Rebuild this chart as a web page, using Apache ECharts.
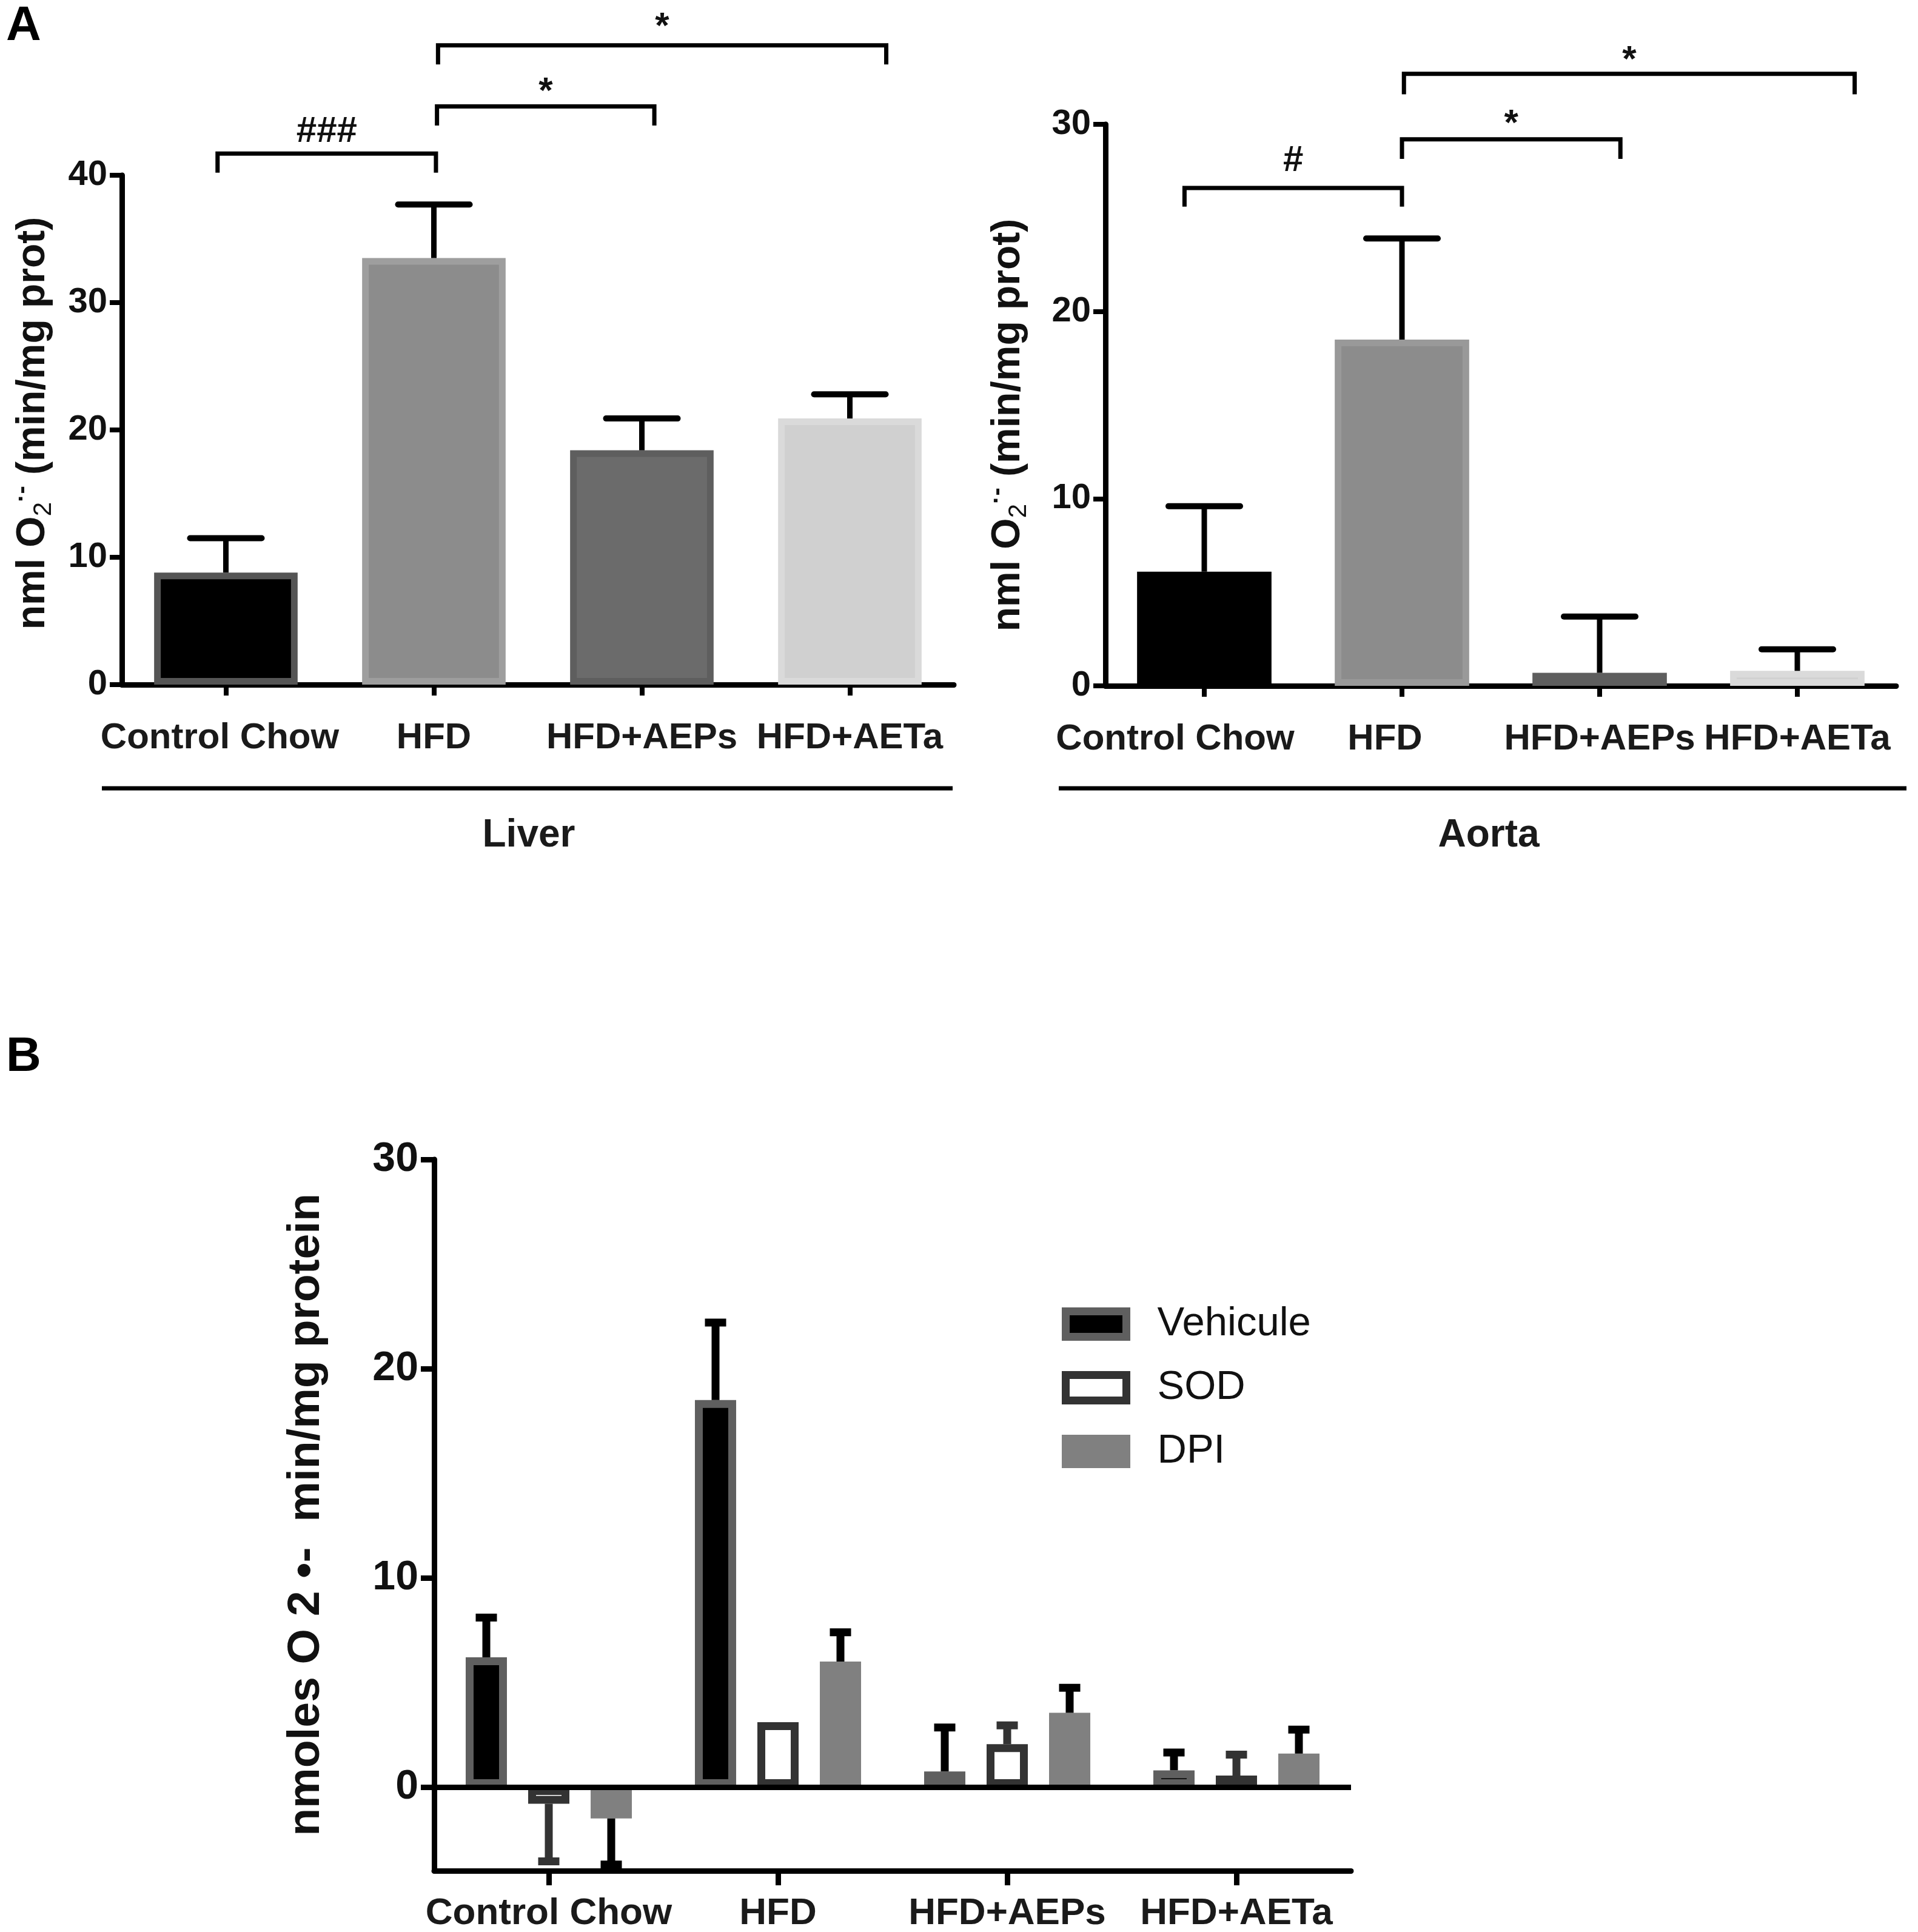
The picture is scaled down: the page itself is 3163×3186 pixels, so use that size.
<!DOCTYPE html>
<html>
<head>
<meta charset="utf-8">
<title>Superoxide production</title>
<script src="https://cdn.jsdelivr.net/npm/echarts@6.0.0/dist/echarts.min.js"></script>
<style>
  html, body { margin: 0; padding: 0; background: #fff; }
  #chart { width: 3163px; height: 3186px; }
</style>
</head>
<body>
<div id="chart"></div>
<script>
// categories
const groups = ['Control Chow', 'HFD', 'HFD+AEPs', 'HFD+AETa']

// A - liver, mean and sem
const liverMean = [8.8, 33.5, 18.4, 20.9]
const liverSem = [2.7, 4.2, 2.5, 1.9]

// A - aorta
const aortaMean = [6.1, 18.5, 0.7, 0.8]
const aortaSem = [3.5, 5.4, 3.0, 1.15]

// significance brackets: [from, to, label]
const liverSig = [[0, 1, '###'], [1, 2, '*'], [1, 3, '*']]
const aortaSig = [[0, 1, '#'], [1, 2, '*'], [1, 3, '*']]

// B - aorta with vehicule / SOD / DPI
const treatments = ['Vehicule', 'SOD', 'DPI']
const vehiculeMean = [6.2, 18.5, 0.75, 0.8]
const vehiculeSem = [1.9, 3.7, 2.1, 0.85]
const sodMean = [-0.8, 3.1, 2.05, 0.55]
const sodSem = [2.75, 0, 0.9, 1.0]
const dpiMean = [-1.5, 6.0, 3.55, 1.6]
const dpiSem = [2.2, 1.4, 1.2, 1.15]

// tick labels of B y axis
const bTicks = [0, 10, 20, 30]

// ---- styles ----
const FONT = 'Liberation Sans'
const fillA = ['#000000', '#8c8c8c', '#6b6b6b', '#d0d0d0']
const edgeLiver = ['#555555', '#9e9e9e', '#5e5e5e', '#dadada']
const edgeAorta = ['#000000', '#999999', '#5e5e5e', '#dadada']
const bStyle = {
  Vehicule: { color: '#000000', borderColor: '#5f5f5f', err: '#000000' },
  SOD: { color: '#ffffff', borderColor: '#333333', err: '#333333' },
  DPI: { color: '#808080', borderColor: '#808080', err: '#000000' }
}
// bracket geometry (axis units); ends shifted by a fraction of the band
const liverBrackets = [
  { y: 41.7, leg: 1.5, dx: [-0.04, 0.01], ty: 43.4 },
  { y: 45.4, leg: 1.5, dx: [0.015, 0.06], ty: 46.5 },
  { y: 50.2, leg: 1.5, dx: [0.02, 0.175], ty: 51.6 }
]
const aortaBrackets = [
  { y: 26.6, leg: 1.0, dx: [-0.1, 0], ty: 28.05 },
  { y: 29.2, leg: 1.05, dx: [0, 0.105], ty: 30.0 },
  { y: 32.7, leg: 1.1, dx: [0.01, 0.29], ty: 33.4 }
]
// right padding that nudges a category label left (px)
const liverLabelPad = [20, 0, 0, 0]
const aortaLabelPad = [96, 56, 0, 0]

function errData(mean, sem) {
  return mean.map((m, i) => [i, m, m < 0 ? m - sem[i] : m + sem[i]])
}

function errorItem(opt) {
  return function(params, api) {
    const lo = api.coord([api.value(0), api.value(1)])
    const hi = api.coord([api.value(0), api.value(2)])
    if (Math.abs(hi[1] - lo[1]) < 1) return
    const x = lo[0] + opt.shift
    return {
      type: 'group',
      children: [
        { type: 'line', shape: { x1: x, y1: lo[1], x2: x, y2: hi[1] },
          style: { stroke: opt.color, lineWidth: opt.line } },
        { type: 'line', shape: { x1: x - opt.cap / 2, y1: hi[1], x2: x + opt.cap / 2, y2: hi[1] },
          style: { stroke: opt.color, lineWidth: opt.capLine, lineCap: opt.round ? 'round' : 'butt' } }
      ]
    }
  }
}

function bracketItem(sig, geo) {
  return function(params, api) {
    const k = params.dataIndex
    const g = geo[k]
    const band = api.size([1, 0])[0]
    const a = api.coord([sig[k][0], g.y])
    const b = api.coord([sig[k][1], g.y])
    const legY = api.coord([sig[k][0], g.y - g.leg])[1]
    const ty = api.coord([sig[k][0], g.ty])[1]
    const x0 = a[0] + g.dx[0] * band
    const x1 = b[0] + g.dx[1] * band
    return {
      type: 'group',
      children: [
        { type: 'polyline', shape: { points: [[x0, legY], [x0, a[1]], [x1, a[1]], [x1, legY]] },
          style: { stroke: '#000', lineWidth: 7, fill: null } },
        { type: 'text', style: { text: sig[k][2], x: (x0 + x1) / 2, y: ty, align: 'center', verticalAlign: 'middle',
          fontSize: 60, fontWeight: 'bold', fontFamily: FONT, fill: '#111' } }
      ]
    }
  }
}

function xCat(grid, opt) {
  const rich = {}
  const pads = opt.pads || [0, 0, 0, 0]
  pads.forEach((p, i) => {
    rich['c' + i] = { fontSize: opt.size, fontWeight: 'bold', fontFamily: FONT, color: '#1a1a1a', padding: [0, p, 0, 0] }
  })
  return {
    gridIndex: grid, type: 'category', data: groups,
    axisLine: { show: true, onZero: false, lineStyle: { color: '#000', width: 9 } },
    axisTick: { show: true, alignWithLabel: true, length: opt.tick, lineStyle: { color: '#000', width: opt.tickW } },
    axisLabel: {
      interval: 0, margin: opt.margin, fontSize: opt.size, fontWeight: 'bold', fontFamily: FONT, color: '#1a1a1a',
      formatter: (v, i) => '{c' + i + '|' + v + '}', rich: rich
    },
    splitLine: { show: false }
  }
}

function yVal(grid, max) {
  return {
    gridIndex: grid, type: 'value', min: 0, max: max, interval: 10,
    axisLine: { show: true, lineStyle: { color: '#000', width: 9 } },
    axisTick: { show: true, length: 20, lineStyle: { color: '#000', width: 8 } },
    axisLabel: { margin: 24, fontSize: 58, fontWeight: 'bold', fontFamily: FONT, color: '#111' },
    splitLine: { show: false }
  }
}

function barsA(name, grid, mean, edges, width) {
  return {
    name: name, type: 'bar', xAxisIndex: grid, yAxisIndex: grid, barWidth: width, z: 2,
    data: mean.map((v, i) => ({ value: v, itemStyle: { color: fillA[i], borderColor: edges[i], borderWidth: 11 } }))
  }
}

function errA(grid, mean, sem) {
  return {
    type: 'custom', xAxisIndex: grid, yAxisIndex: grid, silent: true, z: 5,
    renderItem: errorItem({ shift: 0, color: '#000', line: 9, cap: 118, capLine: 10, round: true }),
    data: errData(mean, sem)
  }
}

function bracketSeries(grid, sig, geo) {
  return {
    type: 'custom', xAxisIndex: grid, yAxisIndex: grid, silent: true, z: 5, clip: false,
    renderItem: bracketItem(sig, geo),
    data: sig.map(s => [s[0], s[1]])
  }
}

const bMeans = { Vehicule: vehiculeMean, SOD: sodMean, DPI: dpiMean }
const bSems = { Vehicule: vehiculeSem, SOD: sodSem, DPI: dpiSem }
const bSpacing = 103

const seriesB = []
treatments.forEach((name, k) => {
  const s = bStyle[name]
  const bar = {
    name: name, type: 'bar', xAxisIndex: 2, yAxisIndex: 2, barWidth: 68, barGap: '51.5%', z: 2,
    itemStyle: { color: s.color, borderColor: s.borderColor, borderWidth: 13 },
    data: bMeans[name]
  }
  if (k === 0) {
    bar.markLine = {
      silent: true, symbol: ['none', 'none'], label: { show: false },
      lineStyle: { color: '#000', width: 9, type: 'solid' },
      data: [{ yAxis: 0 }]
    }
  }
  seriesB.push(bar)
  seriesB.push({
    type: 'custom', xAxisIndex: 2, yAxisIndex: 2, silent: true, z: 5,
    renderItem: errorItem({ shift: (k - 1) * bSpacing, color: s.err, line: 13, cap: 35, capLine: 13, round: false }),
    data: errData(bMeans[name], bSems[name])
  })
})

const titleRich = {
  sub: { fontSize: 42, fontWeight: 'normal', fontFamily: FONT, verticalAlign: 'bottom', lineHeight: 42 },
  sup: { fontSize: 40, fontWeight: 'bold', fontFamily: FONT, verticalAlign: 'top', lineHeight: 40 }
}

function yTitle(x, y, text, size, rich) {
  return {
    type: 'text', x: x, y: y, rotation: Math.PI / 2,
    style: { text: text, rich: rich, align: 'center', verticalAlign: 'middle', fontSize: size, lineHeight: size + 10,
      fontWeight: 'bold', fontFamily: FONT, fill: '#111' }
  }
}

const chart = echarts.init(document.getElementById('chart'))
const option = {
  backgroundColor: '#fff',
  animation: false,
  grid: [
    { left: 201, top: 289, width: 1372, height: 840, outerBoundsMode: 'none' },
    { left: 1823, top: 205, width: 1304, height: 926, outerBoundsMode: 'none' },
    { left: 716, top: 1912, width: 1512, height: 1173, outerBoundsMode: 'none' }
  ],
  xAxis: [
    xCat(0, { tick: 18, tickW: 8, margin: 58, size: 60, pads: liverLabelPad }),
    xCat(1, { tick: 18, tickW: 8, margin: 58, size: 60, pads: aortaLabelPad }),
    xCat(2, { tick: 24, tickW: 9, margin: 40, size: 62 })
  ],
  yAxis: [
    yVal(0, 40),
    yVal(1, 30),
    {
      gridIndex: 2, type: 'value', min: -4, max: 30,
      axisLine: { show: true, lineStyle: { color: '#000', width: 9 } },
      axisTick: { show: true, customValues: bTicks, length: 22, lineStyle: { color: '#000', width: 9 } },
      axisLabel: { customValues: bTicks, margin: 26, fontSize: 68, fontWeight: 'bold', fontFamily: FONT, color: '#111' },
      splitLine: { show: false }
    }
  ],
  legend: {
    orient: 'vertical', left: 1746, top: 2145, itemWidth: 100, itemHeight: 42, itemGap: 38,
    selectedMode: false, icon: 'rect',
    textStyle: { fontSize: 67, fontFamily: FONT, color: '#111', lineHeight: 42, padding: [0, 0, 0, 46] },
    data: treatments.map(name => ({
      name: name,
      itemStyle: { color: bStyle[name].color, borderColor: bStyle[name].borderColor, borderWidth: 13 }
    }))
  },
  graphic: [
    { type: 'text', x: 10, y: 4, style: { text: 'A', fontSize: 80, fontWeight: 'bold', fontFamily: FONT, fill: '#000' } },
    { type: 'text', x: 10, y: 1704, style: { text: 'B', fontSize: 80, fontWeight: 'bold', fontFamily: FONT, fill: '#000' } },
    { type: 'line', shape: { x1: 168, y1: 1300, x2: 1571, y2: 1300 }, style: { stroke: '#000', lineWidth: 7 } },
    { type: 'line', shape: { x1: 1746, y1: 1300, x2: 3144, y2: 1300 }, style: { stroke: '#000', lineWidth: 7 } },
    { type: 'text', x: 872, y: 1378, style: { text: 'Liver', align: 'center', verticalAlign: 'middle', fontSize: 64, fontWeight: 'bold', fontFamily: FONT, fill: '#1a1a1a' } },
    { type: 'text', x: 2455, y: 1378, style: { text: 'Aorta', align: 'center', verticalAlign: 'middle', fontSize: 64, fontWeight: 'bold', fontFamily: FONT, fill: '#1a1a1a' } },
    yTitle(55, 698, 'nml O{sub|2}{sup|·-} (min/mg prot)', 66, titleRich),
    yTitle(1663, 701, 'nml O{sub|2}{sup|·-} (min/mg prot)', 66, titleRich),
    yTitle(505, 2498, 'nmoles O 2 •-  min/mg protein', 75)
  ],
  series: [
    barsA('Liver', 0, liverMean, edgeLiver, '69%'),
    errA(0, liverMean, liverSem),
    bracketSeries(0, liverSig, liverBrackets),
    barsA('Aorta', 1, aortaMean, edgeAorta, '68%'),
    errA(1, aortaMean, aortaSem),
    bracketSeries(1, aortaSig, aortaBrackets)
  ].concat(seriesB)
}
chart.setOption(option)
</script>
</body>
</html>
